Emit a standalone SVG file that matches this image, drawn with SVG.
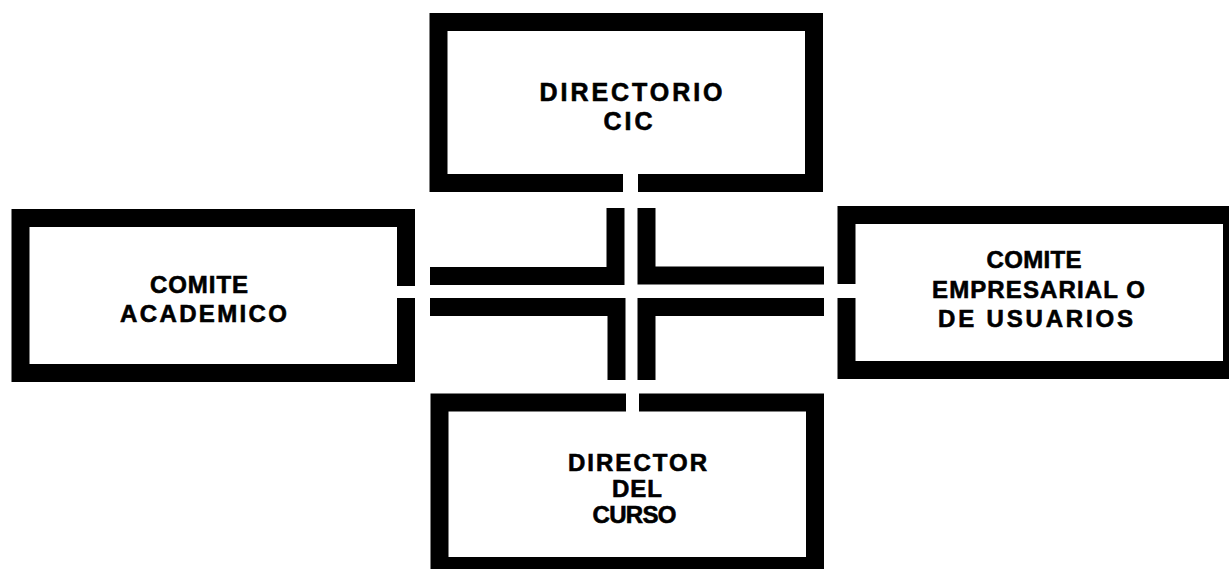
<svg xmlns="http://www.w3.org/2000/svg" width="1229" height="569" viewBox="0 0 1229 569">
<style>
.frame{fill:none;stroke:#000;stroke-width:18;stroke-linejoin:miter;stroke-linecap:butt}
.conn{fill:none;stroke:#000;stroke-width:18;stroke-linejoin:miter;stroke-linecap:butt}
.lbl{font-family:"Liberation Sans",Arial,sans-serif;font-weight:bold;font-size:24px;fill:#000;stroke:#000;stroke-width:0.6;text-anchor:middle}
.big{font-size:25px}
</style>
<rect width="1229" height="569" fill="#fff"/>
<g id="directorio-cic">
<path class="frame" d="M623,183 H438.5 V22 H814 V183 H638"/>
<text class="lbl big" x="631" y="101" textLength="183" lengthAdjust="spacing">DIRECTORIO</text>
<text class="lbl big" x="628" y="130" textLength="49" lengthAdjust="spacing">CIC</text>
</g>
<g id="comite-academico">
<path class="frame" d="M406,286 V218 H20.5 V373 H406 V298"/>
<text class="lbl" x="199" y="293" textLength="98" lengthAdjust="spacing">COMITE</text>
<text class="lbl" x="203.5" y="322" textLength="167" lengthAdjust="spacing">ACADEMICO</text>
</g>
<g id="comite-empresarial">
<path class="frame" d="M846.5,284 V215 H1232 V370 H846.5 V298"/>
<text class="lbl" x="1034" y="268" textLength="95" lengthAdjust="spacing">COMITE</text>
<text class="lbl" x="1038.5" y="298" textLength="213" lengthAdjust="spacing">EMPRESARIAL O</text>
<text class="lbl" x="1035.5" y="327" textLength="195" lengthAdjust="spacing">DE USUARIOS</text>
</g>
<g id="director-curso">
<path class="frame" d="M626,402.5 H439.5 V566 H815 V402.5 H639"/>
<text class="lbl" x="637.5" y="471" textLength="139" lengthAdjust="spacing">DIRECTOR</text>
<text class="lbl" x="637" y="497" textLength="50" lengthAdjust="spacing">DEL</text>
<text class="lbl" x="634.5" y="523" textLength="84" lengthAdjust="spacing">CURSO</text>
</g>
<g id="connectors">
<path class="conn" d="M615.5,208 V276 H430"/>
<path class="conn" d="M646.5,208 V275.5 H824"/>
<path class="conn" d="M430,307 H616.5 V380"/>
<path class="conn" d="M824,307 H646.5 V380"/>
</g>
</svg>
